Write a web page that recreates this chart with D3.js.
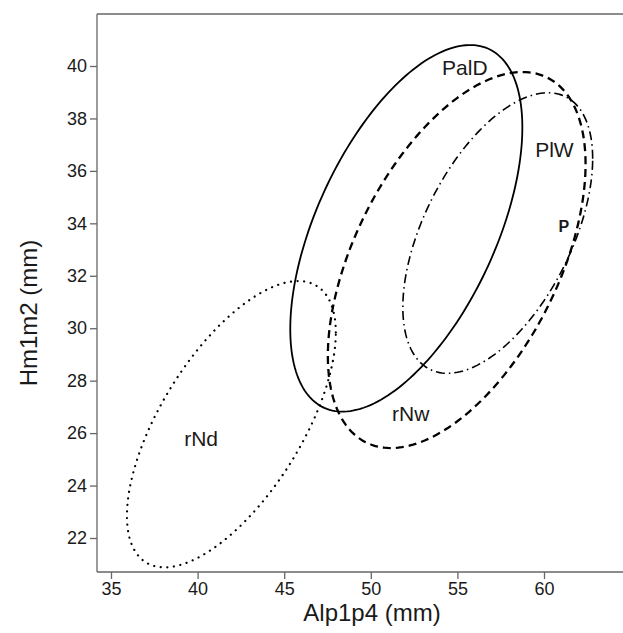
<!DOCTYPE html>
<html>
<head>
<meta charset="utf-8">
<script src="https://cdn.jsdelivr.net/npm/d3@7"></script>
<style>
    body { margin: 0; background: #fff; }
    svg { display: block; font-family: "Liberation Sans", Arial, sans-serif; }
</style>
</head>
<body>
<svg id="chart" width="623" height="633"></svg>
<script>
"use strict";

// ellipse summaries per group (centre, half extents, correlation)
var groups = ["PalD", "rNw", "PlW", "rNd"];
var meanX = [52.05, 54.96, 57.33, 41.95];
var meanY = [33.81, 32.6, 33.63, 26.34];
var halfX = [6.7, 7.44, 5.48, 6.03];
var halfY = [6.99, 7.17, 5.35, 5.46];
var corr = [0.55, 0.51, 0.53, 0.64];

// text labels placed inside the plot
var labelText = ["PalD", "PlW", "P", "rNw", "rNd"];
var labelX = [55.43, 60.6, 61.14, 52.3, 40.2];
var labelY = [39.92, 36.8, 33.87, 26.74, 25.8];

var xTicks = [35, 40, 45, 50, 55, 60];
var yTicks = [22, 24, 26, 28, 30, 32, 34, 36, 38, 40];

var lineStyles = {
    PalD: { dash: null, width: 1.8, cap: "butt" },
    rNw: { dash: "8,5", width: 2.3, cap: "butt" },
    PlW: { dash: "9,4,1.5,4", width: 1.6, cap: "butt" },
    rNd: { dash: "0.1,6.5", width: 2.2, cap: "round" }
};

(function () {
    var svg = d3.select("#chart");
    var plotLeft = 97, plotRight = 623, plotTop = 14, plotBottom = 572;

    var x = d3.scaleLinear().domain([35, 60]).range([111, 544]);
    var y = d3.scaleLinear().domain([22, 40]).range([538, 66]);

    var axisColor = "#666";

    // frame: top line, left and bottom axes
    svg.append("line")
        .attr("x1", plotLeft).attr("x2", plotRight).attr("y1", plotTop).attr("y2", plotTop)
        .attr("stroke", axisColor).attr("stroke-width", 1.3);

    var xAxis = svg.append("g")
        .attr("transform", "translate(0," + plotBottom + ")")
        .call(d3.axisBottom(x).tickValues(xTicks).tickSize(7).tickPadding(3).tickSizeOuter(0));
    xAxis.select(".domain").attr("d", "M" + plotLeft + ",0H" + plotRight);

    var yAxis = svg.append("g")
        .attr("transform", "translate(" + plotLeft + ",0)")
        .call(d3.axisLeft(y).tickValues(yTicks).tickSize(7).tickPadding(3).tickSizeOuter(0));
    yAxis.select(".domain").attr("d", "M0," + plotTop + "V" + plotBottom);

    [xAxis, yAxis].forEach(function (ax) {
        ax.select(".domain").attr("stroke", axisColor).attr("stroke-width", 1.3);
        ax.selectAll(".tick line").attr("stroke", axisColor).attr("stroke-width", 1.3);
        ax.selectAll(".tick text")
            .attr("fill", "#1a1a1a")
            .style("font-size", "18px")
            .style("font-family", "Liberation Sans, Arial, sans-serif");
    });

    svg.append("text")
        .attr("x", (plotLeft + plotRight) / 2 + 12)
        .attr("y", 621)
        .attr("text-anchor", "middle")
        .attr("fill", "#1a1a1a")
        .style("font-size", "24px")
        .text("Alp1p4 (mm)");

    svg.append("text")
        .attr("transform", "translate(37," + ((plotTop + plotBottom) / 2 + 20) + ") rotate(-90)")
        .attr("text-anchor", "middle")
        .attr("fill", "#1a1a1a")
        .style("font-size", "24px")
        .text("Hm1m2 (mm)");

    // build ellipse outline from summary values
    var ellipsePoints = function (i) {
        var pts = [];
        var s = Math.sqrt(1 - corr[i] * corr[i]);
        for (var k = 0; k <= 200; k++) {
            var t = 2 * Math.PI * k / 200;
            pts.push([
                meanX[i] + halfX[i] * Math.cos(t),
                meanY[i] + halfY[i] * (corr[i] * Math.cos(t) + s * Math.sin(t))
            ]);
        }
        return pts;
    };

    var line = d3.line()
        .x(function (d) { return x(d[0]); })
        .y(function (d) { return y(d[1]); });

    svg.append("g").selectAll("path")
        .data(groups)
        .enter().append("path")
        .attr("d", function (g, i) { return line(ellipsePoints(i)); })
        .attr("fill", "none")
        .attr("stroke", "#000")
        .attr("stroke-width", function (g) { return lineStyles[g].width; })
        .attr("stroke-dasharray", function (g) { return lineStyles[g].dash; })
        .attr("stroke-linecap", function (g) { return lineStyles[g].cap; });

    svg.append("g").selectAll("text")
        .data(labelText)
        .enter().append("text")
        .attr("x", function (d, i) { return x(labelX[i]); })
        .attr("y", function (d, i) { return y(labelY[i]); })
        .attr("dy", "0.35em")
        .attr("text-anchor", "middle")
        .attr("fill", "#1a1a1a")
        .style("font-size", function (d) { return d === "P" ? "16px" : "21px"; })
        .style("font-weight", function (d) { return d === "P" ? "bold" : "normal"; })
        .text(function (d) { return d; });
})();
</script>
</body>
</html>
